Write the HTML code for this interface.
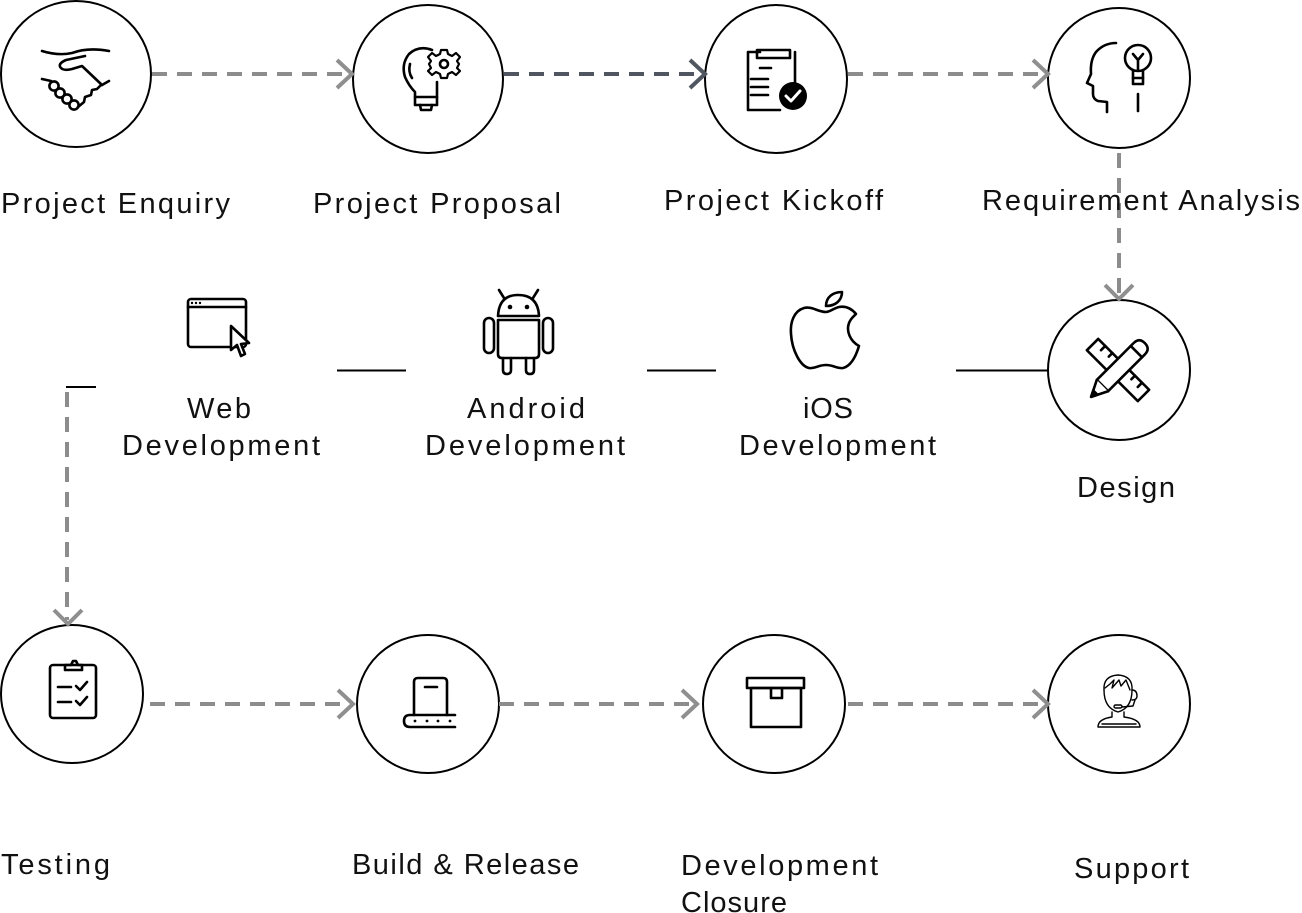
<!DOCTYPE html>
<html>
<head>
<meta charset="utf-8">
<style>
  html, body { margin: 0; padding: 0; background: #ffffff; }
  body { width: 1302px; height: 913px; overflow: hidden; }
  svg { display: block; }
  text { font-family: "Liberation Sans", "DejaVu Sans", sans-serif; font-size: 29px; fill: #111; }
</style>
</head>
<body>
<svg width="1302" height="913" viewBox="0 0 1302 913" xmlns="http://www.w3.org/2000/svg">
  <!-- Circles -->
  <g fill="none" stroke="#000" stroke-width="2">
    <ellipse cx="76" cy="74" rx="75" ry="73"/>
    <ellipse cx="428" cy="79" rx="75" ry="74"/>
    <ellipse cx="776" cy="79" rx="71" ry="74"/>
    <ellipse cx="1119" cy="78" rx="71" ry="70"/>
    <ellipse cx="1119" cy="370" rx="71" ry="70"/>
    <ellipse cx="72" cy="694" rx="71" ry="69"/>
    <ellipse cx="428" cy="704" rx="71" ry="69"/>
    <ellipse cx="774" cy="704" rx="71" ry="69"/>
    <ellipse cx="1119" cy="704" rx="71" ry="69"/>
  </g>

  <!-- Dashed connectors -->
  <g fill="none" stroke="#8c8c8c" stroke-width="4" stroke-dasharray="15 10">
    <line x1="152" y1="74" x2="348" y2="74"/>
    <line x1="848" y1="74" x2="1045" y2="74"/>
    <line x1="1119" y1="153" x2="1119" y2="296"/>
    <line x1="67" y1="392" x2="67" y2="620"/>
    <line x1="150" y1="704" x2="350" y2="704"/>
    <line x1="499" y1="704" x2="694" y2="704"/>
    <line x1="848" y1="704" x2="1044" y2="704"/>
  </g>
  <line x1="504" y1="74" x2="701" y2="74" stroke="#50565f" stroke-width="4" stroke-dasharray="15 10"/>

  <!-- Chevron arrowheads -->
  <g fill="none" stroke="#8f8f8f" stroke-width="4" stroke-linejoin="miter">
    <polyline points="337,60 352,74 337,88"/>
    <polyline points="1033,60 1048,74 1033,88"/>
    <polyline points="1105,285 1119,299 1133,285"/>
    <polyline points="54,610 68,624 82,610"/>
    <polyline points="338,690 353,704 338,718"/>
    <polyline points="682,690 697,704 682,718"/>
    <polyline points="1033,690 1048,704 1033,718"/>
  </g>
  <polyline points="690,60 705,74 690,88" fill="none" stroke="#50565f" stroke-width="4"/>

  <!-- Solid lines middle row -->
  <g stroke="#000" stroke-width="2">
    <line x1="337" y1="370.5" x2="406" y2="370.5"/>
    <line x1="647" y1="370.5" x2="716" y2="370.5"/>
    <line x1="956" y1="370.5" x2="1049" y2="370.5"/>
    <line x1="66" y1="387" x2="96" y2="387"/>
  </g>

  <!-- Icons -->
  <g fill="none" stroke="#000" stroke-width="2.6" stroke-linecap="round" stroke-linejoin="round">
    <!-- Handshake -->
    <path d="M42 51 Q58 56 72 53 Q88 47 109 51"/>
    <path d="M85 56 L66 60 Q57 64 61 68 Q64 71 72 69 L82 66 L102 85"/>
    <path d="M102 85 L109 81"/>
    <path d="M42 79 L51 81"/>
    <circle cx="54" cy="86" r="4.6"/>
    <circle cx="60" cy="93" r="4.6"/>
    <circle cx="67" cy="99" r="4.6"/>
    <circle cx="74" cy="105" r="4.6"/>
    <path d="M78 107 L84 102 L85 97 L91 95 L92 90 L97 89 L101 85"/>

    <!-- Bulb + gear -->
    <path d="M432 50 Q419 45 409 54 Q401 64 405 77 Q409 86 415 92 L415 105 L437 105 L437 82"/>
    <path d="M415 97 L437 97"/>
    <path d="M420 105 L421 110 L431 110 L432 105"/>
    <path d="M410 64 Q408 72 412 78"/>
    <circle cx="444" cy="64" r="4"/>
    <path d="M441 50 L447 50 L448 54 L452 56 L456 53 L460 57 L457 61 L459 64 L457 68 L460 71 L456 75 L452 72 L448 74 L447 78 L441 78 L440 74 L436 72 L432 75 L428 71 L431 68 L429 64 L431 61 L428 57 L432 53 L436 56 L440 54 Z" stroke-width="2.2"/>

    <!-- Kickoff document -->
    <path d="M760 52 L748 52 L748 110 L780 110"/>
    <path d="M795 52 L795 82"/>
    <rect x="757" y="50" width="33" height="8"/>
    <path d="M760 68 L771 68"/>
    <path d="M751 79 L768 79"/>
    <path d="M751 87 L768 87"/>
    <path d="M751 95 L768 95"/>

    <!-- Head + bulb -->
    <path d="M1107 112 L1107 102 L1098 101 Q1093 99 1093 94 L1093 86 L1087 83 L1091 74 Q1090 60 1096 52 Q1104 43 1116 43"/>
    <circle cx="1138" cy="58" r="13"/>
    <path d="M1133 70 L1133 84 L1143 84 L1143 70"/>
    <path d="M1133 78 L1143 78"/>
    <path d="M1133 54 L1138 60 L1143 54 M1138 60 L1138 70"/>
    <path d="M1138 94 L1138 111"/>

    <!-- Web development -->
    <rect x="188" y="299" width="58" height="48" rx="3"/>
    <path d="M188 307 L246 307"/>
    <path d="M231 326 L231 350 L237 345 L241 356 L245 354 L241 344 L249 343 Z" fill="#fff"/>

    <!-- Android -->
    <path d="M498 316 Q499 295 518 295 Q538 295 539 316 Z"/>
    <path d="M504 298 L499 290 M533 298 L538 290"/>
    <path d="M498 320 L539 320 L539 354 Q539 358 535 358 L502 358 Q498 358 498 354 Z"/>
    <rect x="484" y="318" width="10" height="35" rx="5"/>
    <rect x="543" y="318" width="10" height="35" rx="5"/>
    <path d="M503 358 L503 370 Q503 374 507 374 Q511 374 511 370 L511 358"/>
    <path d="M526 358 L526 370 Q526 374 530 374 Q534 374 534 370 L534 358"/>

    <!-- Apple -->
    <path d="M826 312 C818 312 812 306 804 308 C794 311 790 322 791 334 C792 350 800 366 809 368 C815 369 818 365 826 365 C834 365 837 369 843 368 C851 366 856 356 859 346 C850 341 846 331 849 323 C851 318 854 316 856 314 C851 308 845 306 839 307 C834 308 830 312 826 312 Z"/>
    <path d="M826 306 C826 297 833 292 842 292 C842 300 836 306 826 306 Z"/>

    <!-- Design: ruler + pencil -->
    <g transform="translate(1118,370) rotate(45)">
      <rect x="-36" y="-8" width="72" height="16"/>
      <path d="M-26 -8 L-26 -2 M-16 -8 L-16 -3 M16 -8 L16 -3 M26 -8 L26 -2"/>
    </g>
    <g transform="translate(1118,370) rotate(-45)">
      <path d="M-22 -8 L30 -8 Q38 -8 38 0 Q38 8 30 8 L-22 8 Z" fill="#fff"/>
      <path d="M-22 -8 L-38 0 L-22 8" fill="#fff"/>
      <path d="M-32 -3 L-38 0 L-32 3 Z" fill="#000"/>
      <path d="M26 -8 L26 8"/>
    </g>

    <!-- Testing clipboard -->
    <rect x="50" y="665" width="46" height="53" rx="3"/>
    <path d="M65 670 L65 665 L71 665 L73 661 L76 661 L78 665 L82 665 L82 670 Z"/>
    <path d="M58 687 L71 687"/>
    <path d="M58 702 L71 702"/>
    <path d="M76 686 L80 690 L87 682"/>
    <path d="M76 701 L80 705 L87 697"/>

    <!-- Build & release -->
    <path d="M414 715 L414 682 Q414 678 418 678 L443 678 Q447 678 447 682 L447 715"/>
    <path d="M425 687 L437 687"/>
    <path d="M455 715 L410 715 Q404 715 404 721 Q404 727 410 727 L455 727"/>

    <!-- Closure box -->
    <rect x="751" y="688" width="50" height="39"/>
    <rect x="747" y="678" width="57" height="10"/>
    <path d="M771 688 L771 698 L782 698 L782 688"/>
  </g>

  <!-- filled bits -->
  <circle cx="793" cy="96" r="14" fill="#000"/>
  <path d="M786 96 L791 101 L800 91" fill="none" stroke="#fff" stroke-width="3" stroke-linecap="round" stroke-linejoin="round"/>
  <circle cx="192" cy="303" r="1.2" fill="#000"/>
  <circle cx="196" cy="303" r="1.2" fill="#000"/>
  <circle cx="200" cy="303" r="1.2" fill="#000"/>
  <circle cx="510" cy="307" r="2.3" fill="#000"/>
  <circle cx="527" cy="307" r="2.3" fill="#000"/>
  <g fill="#000">
    <circle cx="415" cy="721" r="1.4"/>
    <circle cx="427" cy="721" r="1.4"/>
    <circle cx="438" cy="721" r="1.4"/>
    <circle cx="450" cy="721" r="1.4"/>
  </g>

  <!-- Support person -->
  <g fill="none" stroke="#000" stroke-width="1.4" stroke-linecap="round" stroke-linejoin="round">
    <path d="M1104 690 Q1103 676 1118 675 Q1133 676 1132 690"/>
    <path d="M1104 690 Q1104 708 1118 712 Q1132 708 1132 690"/>
    <path d="M1105 688 L1110 684 L1114 680 L1112 688 L1119 680 L1121 686 L1126 680 L1130 690"/>
    <path d="M1132 690 Q1137 690 1137 696 Q1137 700 1132 700"/>
    <path d="M1135 700 L1133 706 L1122 707"/>
    <rect x="1114" y="705" width="8" height="3" rx="1.5"/>
    <path d="M1112 712 L1112 717 Q1098 719 1098 727 L1140 727 Q1140 719 1124 717 L1124 712"/>
    <path d="M1102 724 L1136 724"/>
  </g>

  <!-- Labels -->
  <text x="1" y="213" textLength="229" lengthAdjust="spacing">Project Enquiry</text>
  <text x="313" y="213" textLength="248" lengthAdjust="spacing">Project Proposal</text>
  <text x="664" y="210" textLength="219" lengthAdjust="spacing">Project Kickoff</text>
  <text x="982" y="210" textLength="318" lengthAdjust="spacing">Requirement Analysis</text>

  <text x="187" y="418" textLength="64" lengthAdjust="spacing">Web</text>
  <text x="122" y="455" textLength="198" lengthAdjust="spacing">Development</text>
  <text x="467" y="418" textLength="118" lengthAdjust="spacing">Android</text>
  <text x="425" y="455" textLength="200" lengthAdjust="spacing">Development</text>
  <text x="803" y="418" textLength="50" lengthAdjust="spacing">iOS</text>
  <text x="739" y="455" textLength="197" lengthAdjust="spacing">Development</text>
  <text x="1077" y="497" textLength="98" lengthAdjust="spacing">Design</text>

  <text x="1" y="874" textLength="109" lengthAdjust="spacing">Testing</text>
  <text x="352" y="874" textLength="227" lengthAdjust="spacing">Build &amp; Release</text>
  <text x="681" y="875" textLength="197" lengthAdjust="spacing">Development</text>
  <text x="681" y="912" textLength="106" lengthAdjust="spacing">Closure</text>
  <text x="1074" y="878" textLength="115" lengthAdjust="spacing">Support</text>
</svg>
</body>
</html>
